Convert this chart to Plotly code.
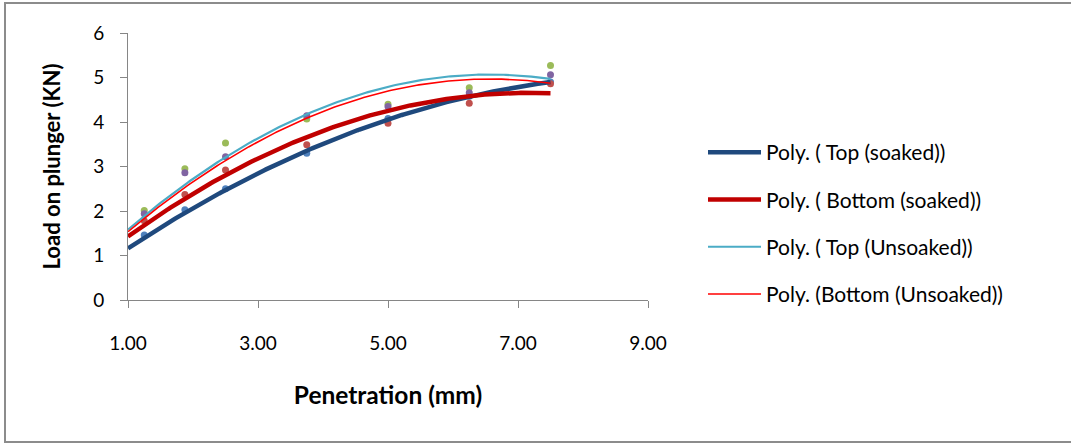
import numpy as np
import plotly.graph_objects as go

# Data points
penetration = [1.25, 1.875, 2.5, 3.75, 5.0, 6.25, 7.5]
top_soaked = [1.46, 2.03, 2.50, 3.30, 4.08, 4.58, 4.90]
bottom_soaked = [1.78, 2.37, 2.92, 3.49, 3.97, 4.42, 4.86]
top_unsoaked = [2.01, 2.95, 3.53, 4.07, 4.40, 4.77, 5.27]
bottom_unsoaked = [1.94, 2.86, 3.22, 4.14, 4.35, 4.66, 5.06]

# Polynomial trendline values
trend_x = [1.0, 3.18, 3.76, 4.57, 5.59, 6.24, 7.48]
trend_top_soaked = [1.15, 3.01, 3.35, 3.86, 4.27, 4.57, 4.91]
trend_bottom_soaked = [1.42, 3.33, 3.67, 4.08, 4.42, 4.58, 4.66]
trend_top_unsoaked = [1.59, 3.78, 4.14, 4.64, 4.98, 5.06, 4.96]
trend_bottom_unsoaked = [1.53, 3.72, 4.06, 4.55, 4.87, 4.92, 4.89]

series_names = ["Poly. ( Top (soaked))", "Poly. ( Bottom (soaked))",
                "Poly. ( Top (Unsoaked))", "Poly. (Bottom (Unsoaked))"]
series_values = [top_soaked, bottom_soaked, top_unsoaked, bottom_unsoaked]
trend_values = [trend_top_soaked, trend_bottom_soaked, trend_top_unsoaked, trend_bottom_unsoaked]
marker_colors = ["#4F81BD", "#C0504D", "#9BBB59", "#8064A2"]
trend_colors = ["#1F497D", "#C00000", "#4BACC6", "#FF0000"]
trend_widths = [4.5, 4.5, 2.2, 1.6]

x_ticks = [1, 3, 5, 7, 9]
y_ticks = [0, 1, 2, 3, 4, 5, 6]

FONT = "Lato"
fig = go.Figure()

# markers
for vals, col in zip(series_values, marker_colors):
    fig.add_trace(go.Scatter(x=penetration, y=vals, mode="markers",
                             marker=dict(color=col, size=7),
                             showlegend=False, hoverinfo="skip"))

# order-2 polynomial trendlines (smoothed through the read-off trend values)
xs = np.linspace(1.0, max(penetration), 200)
for i, (tv, name, col, w) in enumerate(zip(trend_values, series_names, trend_colors, trend_widths)):
    c = np.polyfit(trend_x, tv, 2)
    fig.add_trace(go.Scatter(x=xs, y=np.polyval(c, xs), mode="lines", name=name,
                             line=dict(color=col, width=w), legendgroup=f"g{i}",
                             hoverinfo="skip"))

axis_common = dict(showgrid=False, zeroline=False, showline=True,
                   linecolor="#868686", linewidth=1, ticks="outside",
                   tickcolor="#868686", ticklen=7,
                   tickfont=dict(family=FONT, size=19, color="#000000"))

fig.update_xaxes(range=[1, 9], tickvals=x_ticks,
                 ticktext=[f"{v:.2f}" for v in x_ticks],
                 ticklabelstandoff=19,
                 title=dict(text="<b>Penetration (mm)</b>",
                            font=dict(family=FONT, size=24.5, color="#000000"),
                            standoff=34),
                 **axis_common)
fig.update_yaxes(range=[0, 6], tickvals=y_ticks,
                 ticklabelstandoff=12,
                 title=dict(text="<b>Load on plunger (KN)</b>",
                            font=dict(family=FONT, size=22, color="#000000"),
                            standoff=26),
                 **axis_common)

fig.update_layout(
    width=1071, height=444,
    margin=dict(l=128, r=423, t=33, b=144),
    plot_bgcolor="white", paper_bgcolor="white",
    font=dict(family=FONT, size=19, color="#000000"),
    legend=dict(x=(703 - 128) / 520, y=(300 - 223.5) / 267, xanchor="left", yanchor="middle",
                font=dict(family=FONT, size=21, color="#000000"),
                itemwidth=53,
                tracegroupgap=17, bgcolor="rgba(0,0,0,0)"),
    shapes=[dict(type="rect", xref="paper", yref="paper",
                 x0=(5 - 128) / 520, x1=(1075 - 128) / 520,
                 y0=(300 - 442) / 267, y1=(300 - 3) / 267,
                 line=dict(color="#8C8C8C", width=2), fillcolor="rgba(0,0,0,0)",
                 layer="below")],
)

fig.write_html("out.html")
